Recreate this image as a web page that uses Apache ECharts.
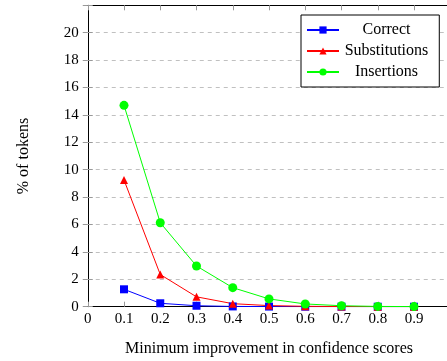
<!DOCTYPE html>
<html><head><meta charset="utf-8">
<script src="https://cdn.jsdelivr.net/npm/echarts@6/dist/echarts.min.js"></script>
<style>html,body{margin:0;padding:0;background:#fff}#c{width:447px;height:361px}</style>
</head><body><div id="c"></div>
<script>
const xValues = [0.1, 0.2, 0.3, 0.4, 0.5, 0.6, 0.7, 0.8, 0.9];
const correct = [1.27, 0.25, 0.07, 0.02, 0.01, 0.0, 0.0, 0.0, 0.0];
const substitutions = [9.25, 2.35, 0.72, 0.22, 0.08, 0.03, 0.01, 0.0, 0.0];
const insertions = [14.7, 6.13, 2.97, 1.39, 0.57, 0.2, 0.07, 0.02, 0.01];
const seriesNames = ['Correct', 'Substitutions', 'Insertions'];
const xTitle = 'Minimum improvement in confidence scores';
const yTitle = '% of tokens';

const font = '"Liberation Serif", "DejaVu Serif", serif';
const chart = echarts.init(document.getElementById('c'), null, {renderer: 'canvas'});
const pairs = arr => xValues.map((x, i) => [x, arr[i]]);
const mk = (name, data, color, symbol, size) => ({
  name, type: 'line', data: pairs(data), symbol, symbolSize: size,
  itemStyle: {color}, lineStyle: {color, width: 1}, z: 3
});
chart.setOption({
  animation: false,
  grid: {left: 87.75, top: 5.3, width: 362.5, height: 301.4, containLabel: false, outerBoundsMode: 'none'},
  xAxis: [{
    type: 'value', min: 0, max: 1, interval: 0.1,
    axisLine: {show: true, onZero: false, lineStyle: {color: '#000', width: 1}},
    axisTick: {show: true, inside: true, length: 5, lineStyle: {color: '#999'}},
    axisLabel: {fontFamily: font, fontSize: 15, color: '#000', margin: 5,
      formatter: v => v > 0.95 ? '' : String(Math.round(v * 10) / 10)},
    splitLine: {show: false},
    name: xTitle, nameLocation: 'middle', nameGap: 34,
    nameTextStyle: {fontFamily: font, fontSize: 16, color: '#000'}
  }, {
    type: 'value', min: 0, max: 1, interval: 0.1, position: 'top',
    axisLine: {show: true, onZero: false, lineStyle: {color: '#000', width: 1}},
    axisTick: {show: true, inside: true, length: 5, lineStyle: {color: '#999'}},
    axisLabel: {show: false}, splitLine: {show: false}
  }],
  yAxis: [{
    type: 'value', min: 0, max: 22, interval: 2,
    axisLine: {show: true, onZero: false, lineStyle: {color: '#000', width: 1}},
    axisTick: {show: true, inside: true, length: 5, lineStyle: {color: '#999'}},
    axisLabel: {fontFamily: font, fontSize: 15, color: '#000', margin: 9,
      formatter: v => v > 21 ? '' : String(v)},
    splitLine: {show: true, lineStyle: {color: '#c0c0c0', type: [4, 4], width: 1}},
    name: yTitle, nameLocation: 'middle', nameGap: 56,
    nameTextStyle: {fontFamily: font, fontSize: 16, color: '#000'}
  }, {
    type: 'value', min: 0, max: 22, interval: 2, position: 'right',
    axisLine: {show: false},
    axisTick: {show: true, inside: true, length: 5, lineStyle: {color: '#999'}},
    axisLabel: {show: false}, splitLine: {show: false}
  }],
  legend: {
    orient: 'vertical', left: 301, top: 15,
    padding: [7, 11, 7, 5], itemGap: 5, itemWidth: 32, itemHeight: 9,
    borderColor: '#000', borderWidth: 1, backgroundColor: '#fff',
    data: seriesNames,
    formatter: n => '{a|' + n + '}',
    textStyle: {fontFamily: font, fontSize: 16, color: '#000',
      rich: {a: {fontFamily: font, fontSize: 16, color: '#000', width: 85, align: 'center', height: 18}}}
  },
  series: [
    mk(seriesNames[0], correct, '#0000ff', 'rect', 8),
    mk(seriesNames[1], substitutions, '#ff0000', 'triangle', 8),
    mk(seriesNames[2], insertions, '#00ff00', 'circle', 9)
  ]
});
</script></body></html>
